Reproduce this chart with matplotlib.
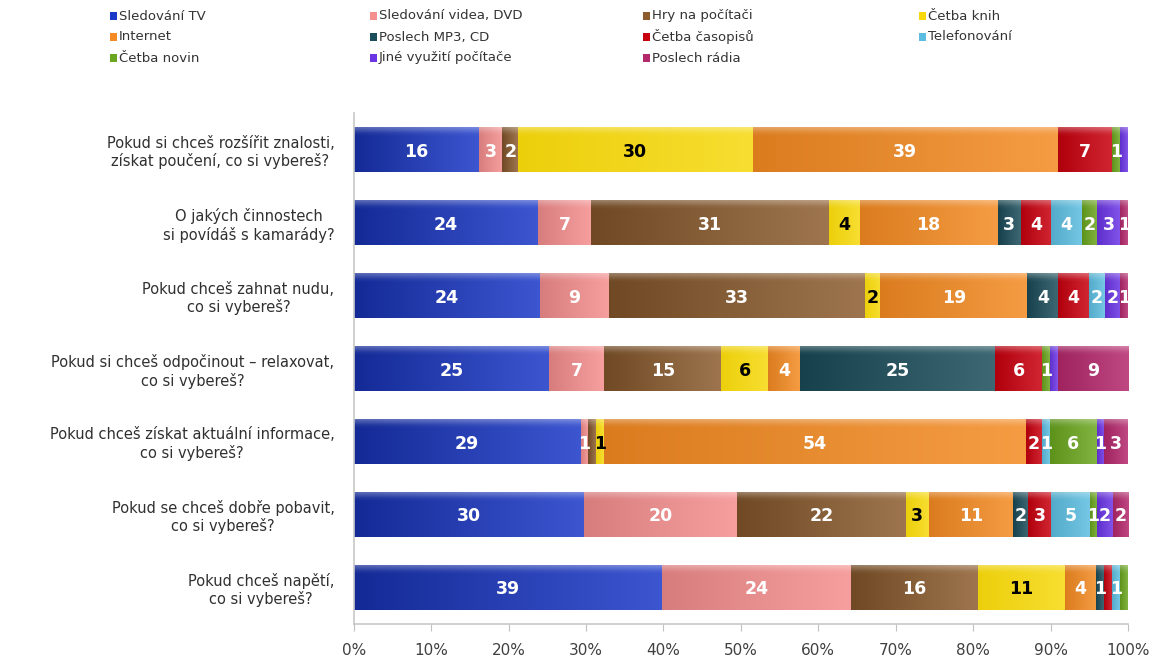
import numpy as np
import matplotlib
matplotlib.use("Agg")
import matplotlib.pyplot as plt
from matplotlib.colors import to_rgb
from matplotlib.patches import Rectangle

plt.rcParams['font.family'] = ['DejaVu Sans']

questions = [
    "Pokud si chceš rozšířit znalosti,\nzískat poučení, co si vybereš?",
    "O jakých činnostech\nsi povídáš s kamarády?",
    "Pokud chceš zahnat nudu,\nco si vybereš?",
    "Pokud si chceš odpočinout – relaxovat,\nco si vybereš?",
    "Pokud chceš získat aktuální informace,\nco si vybereš?",
    "Pokud se chceš dobře pobavit,\nco si vybereš?",
    "Pokud chceš napětí,\nco si vybereš?",
]

series_names = [
    "Sledování TV", "Sledování videa, DVD", "Hry na počítači", "Četba knih",
    "Internet", "Poslech MP3, CD", "Četba časopisů", "Telefonování",
    "Četba novin", "Jiné využití počítače", "Poslech rádia",
]

tv       = [16, 24, 24, 25, 29, 30, 39]
video    = [3, 7, 9, 7, 1, 20, 24]
hry      = [2, 31, 33, 15, 1, 22, 16]
knihy    = [30, 4, 2, 6, 1, 3, 11]
internet = [39, 18, 19, 4, 54, 11, 4]
mp3      = [0, 3, 4, 25, 0, 2, 1]
casopisy = [7, 4, 4, 6, 2, 3, 1]
telefon  = [0, 4, 2, 0, 1, 5, 1]
noviny   = [1, 2, 0, 1, 6, 1, 1]
jine_pc  = [1, 3, 2, 1, 1, 2, 0]
radio    = [0, 1, 1, 9, 3, 2, 0]

x_ticks = [0, 10, 20, 30, 40, 50, 60, 70, 80, 90, 100]

series_values = [tv, video, hry, knihy, internet, mp3, casopisy,
                 telefon, noviny, jine_pc, radio]
colors = ["#1a38c8", "#f58e8e", "#8c5c2e", "#f6d80c", "#f38a22",
          "#1b4d5a", "#c8000e", "#5cbde0", "#6aa61e", "#6b35e6", "#b4286c"]
dark_amount = [-0.25, -0.12, -0.2, -0.04, -0.1, -0.15, -0.12, -0.1,
               -0.12, -0.12, -0.12]
label_colors = ["white", "white", "white", "black", "white", "white",
                "white", "white", "white", "white", "white"]


def shade(c, f):
    r = np.array(to_rgb(c))
    if f < 0:
        return r * (1 + f)
    return r + (1 - r) * f


fig = plt.figure(figsize=(11.64, 6.62), dpi=100)
ax = fig.add_axes([0.304, 0.058, 0.665, 0.7707])

data = np.array(series_values, dtype=float)
totals = data.sum(axis=0)
pct = data / totals * 100

n_rows = len(questions)
ypos = np.arange(n_rows)
bar_h = 0.62

left = np.zeros(n_rows)
last_label = np.full(n_rows, -10.0)
for s in range(len(series_names)):
    bars = ax.barh(ypos, pct[s], left=left, height=bar_h, color=colors[s],
                   linewidth=0, zorder=2)
    c0 = shade(colors[s], dark_amount[s])
    c1 = shade(colors[s], 0.15)
    for r, bar in enumerate(bars):
        w = pct[s][r]
        if w <= 0:
            continue
        x0 = left[r]
        y0 = ypos[r] - bar_h / 2
        # horizontal shading across each segment, lighter strip on top
        grad = np.linspace(0, 1, 64)
        img = (c0[None, :] * (1 - grad[:, None]) + c1[None, :] * grad[:, None])
        vert = np.linspace(0, 1, 16)
        hl = np.clip(1 - vert / 0.16, 0, 1) * 0.3
        img3 = img[None, :, :] * (1 - hl[:, None, None]) + hl[:, None, None]
        im = ax.imshow(img3, extent=[x0, x0 + w, y0 + bar_h, y0],
                       aspect='auto', interpolation='bilinear', zorder=2.5)
        im.set_clip_path(bar)
        cx = x0 + w / 2
        if data[s][r] >= 1 and cx - last_label[r] >= 1.3:
            ax.text(cx, ypos[r] + 0.03, f"{int(data[s][r])}", ha='center',
                    va='center', fontsize=12.5, fontweight='bold',
                    color=label_colors[s], zorder=4)
            last_label[r] = cx
    left = left + pct[s]

ax.set_xlim(0, 100)
ax.set_ylim(n_rows - 0.5, -0.5)
ax.set_xticks(x_ticks)
ax.set_xticklabels([f"{t}%" for t in x_ticks], fontsize=11, color="#404040")
ax.set_yticks(ypos)
ax.set_yticklabels(questions, fontsize=10.5, color="#303030",
                   multialignment='center')
ax.tick_params(axis='y', length=0, pad=14)
ax.tick_params(axis='x', length=5, color="#c0c0c0", pad=9)
for side in ("top", "right"):
    ax.spines[side].set_visible(False)
for side in ("left", "bottom"):
    ax.spines[side].set_color("#c8c8c8")
    ax.spines[side].set_linewidth(1.2)

# legend laid out in rows of four across the top
leg_cols_px = [110, 370, 643, 919]
leg_rows_px = [16, 37, 58]
W, H = 1164, 662
for i, name in enumerate(series_names):
    row, col = divmod(i, 4)
    xp = leg_cols_px[col]
    yp = leg_rows_px[row]
    fig.patches.append(Rectangle(((xp) / W, 1 - (yp + 4) / H), 7 / W, 8 / H,
                                 transform=fig.transFigure,
                                 facecolor=colors[i], edgecolor='none'))
    fig.text((xp + 9) / W, 1 - yp / H, name, fontsize=9.5, color="#333333",
             ha='left', va='center')

fig.savefig("out.png", dpi=100, facecolor="white")
